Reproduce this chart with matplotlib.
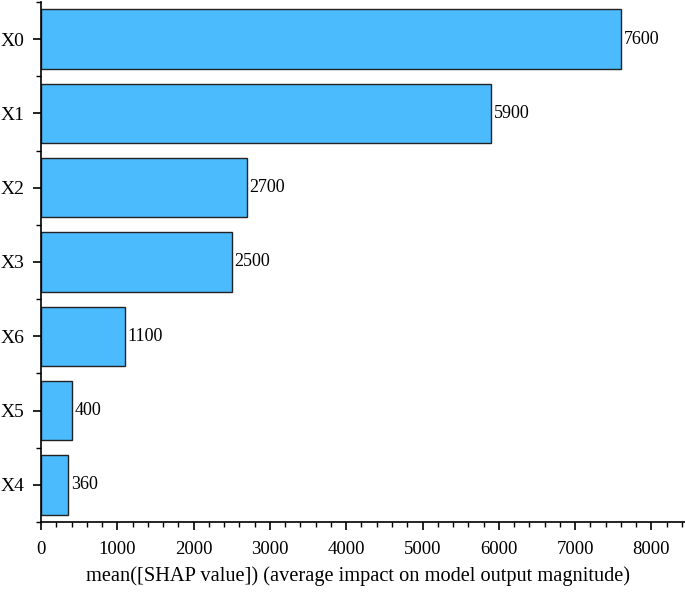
import matplotlib
matplotlib.use("Agg")
import matplotlib.pyplot as plt
from matplotlib.ticker import MultipleLocator
import numpy as np

features = ["X0", "X1", "X2", "X3", "X6", "X5", "X4"]
values = [7600, 5900, 2700, 2500, 1100, 400, 360]
xlabel = "mean([SHAP value]) (average impact on model output magnitude)"

plt.rcParams['font.family'] = ['Liberation Serif', 'DejaVu Serif']

fig = plt.figure(figsize=(6.85, 5.93), dpi=100)
ax = fig.add_axes([0.0599, 0.1197, 0.9401, 0.877])

ypos = np.arange(len(features))[::-1]
ax.barh(ypos, values, height=0.8, color="#4BBBFD", edgecolor="#222222", linewidth=1.0)
for y, v in zip(ypos, values):
    ax.text(v + 35, y, f"{v}", va="center", ha="left", fontsize=13)

ax.set_yticks(ypos)
ax.set_yticklabels(features, fontsize=14)
ax.set_yticks(np.arange(-0.5, len(features) + 0.5, 1.0), minor=True)
ax.set_ylim(-0.5, len(features) - 0.5)
ax.set_xlim(0, 8440)
ax.xaxis.set_major_locator(MultipleLocator(1000))
ax.xaxis.set_minor_locator(MultipleLocator(200))
ax.tick_params(axis='x', labelsize=13.5, width=1.2, length=6, pad=8)
ax.tick_params(axis='x', which='minor', width=1.0, length=3.5)
ax.tick_params(axis='y', width=1.2, length=6, pad=6)
ax.tick_params(axis='y', which='minor', width=1.0, length=3.5)
ax.set_xlabel(xlabel, fontsize=14.7, labelpad=7)
ax.xaxis.set_label_coords(0.4915, -0.085)
for s in ["top", "right"]:
    ax.spines[s].set_visible(False)
for s in ["left", "bottom"]:
    ax.spines[s].set_linewidth(1.2)

fig.savefig("out.png", dpi=100)
